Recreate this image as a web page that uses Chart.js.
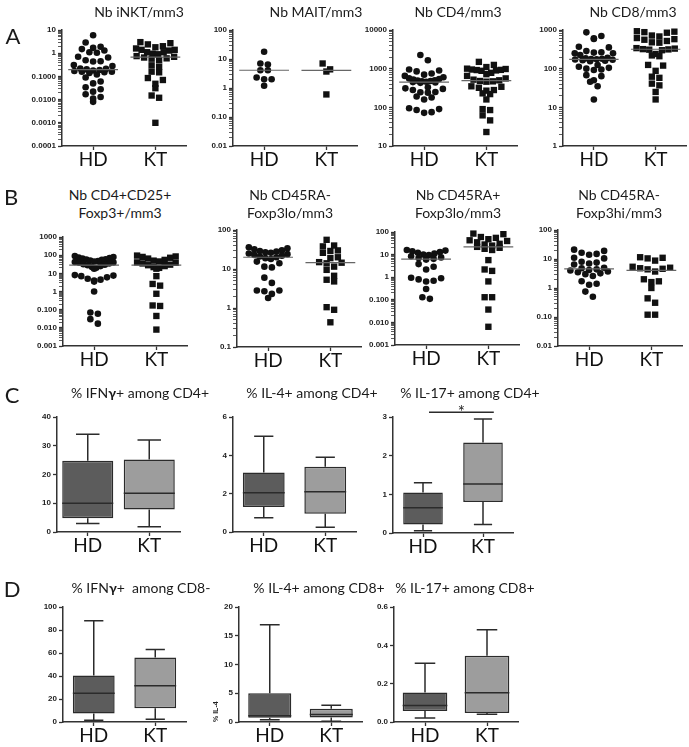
<!DOCTYPE html>
<html lang="en">
<head>
<meta charset="UTF-8">
<title>HD vs KT</title>
<script src="https://cdn.jsdelivr.net/npm/chart.js@4.4.1/dist/chart.umd.min.js"></script>
<style>
  body { margin: 0; background: #fff; }
  #fig { position: relative; width: 689px; height: 747px; overflow: hidden; font-family: Lato, 'Open Sans', sans-serif; color: #1a1a1a; }
  .txt { position: absolute; white-space: nowrap; transform: translate(-50%, -50%); font-size: 14px; line-height: 18px; text-align: center; }
  .letter { position: absolute; transform: translate(-50%, -50%); font-size: 22px; }
</style>
</head>
<body>
<div id="fig"></div>
<script>
const groups = ['HD', 'KT'];

// ---- row A : cell counts (log scale) ----
const inktHD = [5.9, 2.9, 1.9, 1.7, 1.5, 1.3, 1.1, 1.05, 0.7, 0.65, 0.5, 0.45, 0.44, 0.31, 0.28, 0.22, 0.21, 0.2, 0.19, 0.18, 0.17, 0.16, 0.16, 0.15, 0.14, 0.12, 0.09, 0.06, 0.05, 0.034, 0.028, 0.022, 0.017, 0.013, 0.011, 0.008];
const inktKT = [3.0, 2.7, 2.4, 2.0, 1.8, 1.6, 1.4, 1.4, 1.3, 1.1, 1.1, 0.95, 0.9, 0.75, 0.7, 0.65, 0.6, 0.58, 0.5, 0.3, 0.26, 0.16, 0.15, 0.085, 0.07, 0.048, 0.031, 0.015, 0.012, 0.001];
const inktTicks = ['0.0001', '0.0010', '0.0100', '0.1000', '1', '10'];

const maitHD = [17.8, 7.0, 6.5, 4.1, 4.1, 2.3, 2.0, 2.0, 1.2];
const maitKT = [7.0, 4.4, 3.7, 0.6];
const maitTicks = ['0.01', '0.10', '1', '10', '100'];

const cd4HD = [2250, 1650, 950, 900, 850, 750, 700, 650, 600, 560, 540, 520, 500, 490, 480, 470, 460, 450, 440, 430, 330, 310, 300, 280, 250, 245, 240, 190, 180, 160, 95, 90, 85, 75, 72];
const cd4KT = [1500, 1250, 1100, 1000, 980, 950, 930, 920, 900, 880, 780, 720, 650, 560, 520, 500, 480, 470, 460, 350, 340, 320, 280, 270, 230, 220, 160, 90, 85, 62, 46, 23];
const cd4Ticks = ['10', '100', '1000', '10000'];

const cd8HD = [870, 700, 610, 585, 370, 355, 285, 265, 260, 250, 250, 225, 190, 185, 180, 178, 175, 172, 170, 165, 160, 155, 124, 112, 105, 100, 95, 92, 68, 64, 50, 46, 35, 16];
const cd8KT = [930, 905, 880, 850, 720, 680, 620, 580, 560, 520, 480, 470, 340, 330, 320, 315, 310, 300, 240, 220, 210, 125, 120, 88, 62, 58, 41, 37, 25, 16];
const cd8Ticks = ['1', '10', '100', '1000'];

// ---- row B : Treg subsets (log scale) ----
const tregHD = [90, 80, 75, 70, 65, 60, 58, 55, 50, 48, 45, 42, 40, 38, 35, 32, 30, 28, 25, 22, 20, 18, 8, 7.5, 7, 6, 5, 4.5, 4, 3.5, 1, 0.07, 0.06, 0.03, 0.017];
const tregKT = [95, 85, 80, 72, 65, 55, 50, 45, 40, 38, 35, 30, 28, 25, 22, 20, 18, 7, 2.6, 2.1, 0.75, 0.17, 0.16, 0.045, 0.008];
const tregTicks = ['0.001', '0.010', '0.100', '1', '10', '100', '1000'];

const raNegLoHD = [36, 34, 32, 30, 29, 28, 27, 26, 25, 24, 23, 22, 21, 20, 19, 18, 15.5, 14, 11.5, 11, 6, 4.4, 2.8, 2.8, 2.7, 2.3, 1.8];
const raNegLoKT = [56, 40, 38, 30, 29, 26, 20, 19, 15, 14.5, 14, 11.5, 9.5, 6.7, 5.3, 4.8, 1.05, 0.9, 0.43];
const raNegLoTicks = ['0.1', '1', '10', '100'];

const raPosLoHD = [16, 15, 14, 13, 12, 11, 10, 9.5, 8.5, 7.5, 7, 6.5, 6, 3.8, 2.9, 2.2, 0.95, 0.9, 0.8, 0.7, 0.65, 0.3, 0.13, 0.11];
const raPosLoKT = [85, 80, 60, 55, 48, 43, 40, 35, 30, 28, 25, 22, 20, 18, 16, 5.7, 2.2, 1.9, 0.65, 0.13, 0.13, 0.037, 0.0064];
const raPosLoTicks = ['0.001', '0.010', '0.100', '1', '10', '100'];

const raNegHiHD = [21, 19, 16.5, 15, 14, 11, 10.5, 8, 7.5, 7, 6.5, 5, 4.8, 4.4, 4.2, 4, 3.7, 3.5, 3.2, 3.0, 2.6, 1.7, 1.4, 1.3, 0.75, 0.5];
const raNegHiKT = [11.5, 11, 10.5, 8.8, 5.4, 5, 4.8, 4.6, 4.4, 3.7, 2.0, 1.7, 1.6, 1.0, 0.44, 0.31, 0.12, 0.12];
const raNegHiTicks = ['0.01', '0.10', '1', '10', '100'];

// ---- rows C, D : cytokine box plots (min, q1, median, q3, max per group) ----
const ifnCd4Min = [3, 1.8], ifnCd4Q1 = [4.8, 7.8], ifnCd4Med = [10, 13.5], ifnCd4Q3 = [24.8, 25.2], ifnCd4Max = [34, 32];
const ifnCd4Ticks = ['0', '10', '20', '30', '40'];
const il4Cd4Min = [0.75, 0.25], il4Cd4Q1 = [1.3, 0.95], il4Cd4Med = [2.05, 2.1], il4Cd4Q3 = [3.1, 3.4], il4Cd4Max = [5.0, 3.9];
const il4Cd4Ticks = ['0', '2', '4', '6'];
const il17Cd4Min = [0.06, 0.22], il17Cd4Q1 = [0.22, 0.8], il17Cd4Med = [0.65, 1.27], il17Cd4Q3 = [1.05, 2.34], il17Cd4Max = [1.3, 2.95];
const il17Cd4Ticks = ['0', '1', '2', '3'];
const il17Cd4Sig = 3.12;

const ifnCd8Min = [1.5, 2.3], ifnCd8Q1 = [7.5, 12], ifnCd8Med = [25, 31.5], ifnCd8Q3 = [40.5, 56], ifnCd8Max = [88, 63];
const ifnCd8Ticks = ['0', '20', '40', '60', '80', '100'];
const il4Cd8Min = [0.4, 0.15], il4Cd8Q1 = [0.75, 0.8], il4Cd8Med = [1.1, 1.3], il4Cd8Q3 = [5.0, 2.3], il4Cd8Max = [16.9, 2.9];
const il4Cd8Ticks = ['0', '5', '10', '15', '20'];
const il17Cd8Min = [0.021, 0.04], il17Cd8Q1 = [0.057, 0.047], il17Cd8Med = [0.086, 0.152], il17Cd8Q3 = [0.154, 0.346], il17Cd8Max = [0.306, 0.481];
const il17Cd8Ticks = ['0.0', '0.2', '0.4', '0.6'];

const fig = document.getElementById('fig');
const XH = 30, PADR = 4;

function addText(html, x, y, cls) {
  const d = document.createElement('div');
  d.className = cls || 'txt';
  d.style.left = x + 'px';
  d.style.top = y + 'px';
  d.innerHTML = html;
  fig.appendChild(d);
}

function makeCanvas(box, yw, padT) {
  const [x0, x1, y0, y1] = box;
  const c = document.createElement('canvas');
  c.width = yw + (x1 - x0) + PADR;
  c.height = padT + (y1 - y0) + XH;
  c.style.cssText = 'position:absolute;left:' + (x0 - yw) + 'px;top:' + (y0 - padT) + 'px;';
  fig.appendChild(c);
  return c;
}

// decade labels, plus unlabelled minor ticks in between on log axes
function buildTicks(labels, log) {
  const out = [];
  labels.forEach((l, i) => {
    const v = Number(l);
    out.push({ value: v, lbl: l });
    if (log && i < labels.length - 1) {
      for (let k = 2; k <= 9; k++) out.push({ value: v * k, lbl: '' });
    }
  });
  return out;
}

function yAxis(labels, log, yw, title) {
  return {
    type: log ? 'logarithmic' : 'linear',
    min: Number(labels[0]),
    max: Number(labels[labels.length - 1]),
    afterBuildTicks: s => { s.ticks = buildTicks(labels, log); },
    afterFit: s => { s.width = yw; },
    ticks: {
      autoSkip: false, padding: 2, color: '#222',
      font: { family: 'Liberation Sans', size: 8, weight: 'bold' },
      callback: (v, i, t) => t[i].lbl
    },
    grid: {
      drawOnChartArea: false, color: '#333', tickLength: 4,
      tickWidth: c => (c.tick && c.tick.lbl ? 1.3 : 0.8)
    },
    border: { color: '#333', width: 1.5 },
    title: title ? {
      display: true, text: title, align: 'start', color: '#222',
      font: { family: 'Liberation Sans', size: 7, weight: 'bold' }, padding: { top: 1, bottom: 0 }
    } : { display: false }
  };
}

const xAxis = {
  type: 'category', labels: groups, offset: true,
  afterFit: s => { s.height = XH; },
  ticks: { color: '#111', padding: 0, font: { family: 'Lato', size: 19, lineHeight: 1 } },
  grid: { drawOnChartArea: false, offset: false, color: '#333', tickLength: 4, tickWidth: 1.3 },
  border: { color: '#333', width: 1.5 }
};

// spread points of one group sideways in rows, the way a scatter dot plot does
const swarm = {
  id: 'swarm',
  afterDatasetsUpdate(chart) {
    const xs = chart.scales.x;
    const maxSpread = 0.62 * (xs.getPixelForValue(1) - xs.getPixelForValue(0));
    chart.data.datasets.forEach((ds, di) => {
      const pts = chart.getDatasetMeta(di).data.slice().sort((a, b) => a.y - b.y);
      let row = [], top = null;
      const flush = () => {
        const n = row.length;
        const step = n > 1 ? Math.min(7.5, maxSpread / (n - 1)) : 0;
        const slots = [];
        for (let k = 0; k < n; k++) slots.push((k - (n - 1) / 2) * step);
        slots.sort((a, b) => Math.abs(b) - Math.abs(a));
        row.forEach((p, i) => { p.x += slots[i]; });
        row = [];
      };
      pts.forEach(p => {
        if (top === null || p.y - top > 6) { flush(); top = p.y; }
        row.push(p);
      });
      flush();
    });
  }
};

const medians = {
  id: 'medians',
  afterDatasetsDraw(chart) {
    const xs = chart.scales.x, ys = chart.scales.y, ctx = chart.ctx;
    const half = 0.4 * (xs.getPixelForValue(1) - xs.getPixelForValue(0));
    chart.data.datasets.forEach((ds, i) => {
      const v = ds.data.map(d => d.y).sort((a, b) => a - b);
      const n = v.length;
      const m = n % 2 ? v[(n - 1) / 2] : (v[n / 2 - 1] + v[n / 2]) / 2;
      const py = ys.getPixelForValue(m), px = xs.getPixelForValue(i);
      ctx.save();
      ctx.strokeStyle = '#666';
      ctx.lineWidth = 1.2;
      ctx.beginPath();
      ctx.moveTo(px - half, py);
      ctx.lineTo(px + half, py);
      ctx.stroke();
      ctx.restore();
    });
  }
};

const whiskers = {
  id: 'whiskers',
  afterDatasetsDraw(chart, args, o) {
    const ys = chart.scales.y, ctx = chart.ctx;
    ctx.save();
    ctx.strokeStyle = '#2b2b2b';
    ctx.lineWidth = 1.5;
    chart.getDatasetMeta(0).data.forEach((bar, i) => {
      const x = bar.x, w = bar.width, cap = w * 0.23;
      const pMin = ys.getPixelForValue(o.min[i]), pMax = ys.getPixelForValue(o.max[i]);
      const pQ1 = ys.getPixelForValue(o.q1[i]), pQ3 = ys.getPixelForValue(o.q3[i]);
      const pMed = ys.getPixelForValue(o.med[i]);
      ctx.beginPath();
      ctx.moveTo(x, pQ3); ctx.lineTo(x, pMax);
      ctx.moveTo(x - cap, pMax); ctx.lineTo(x + cap, pMax);
      ctx.moveTo(x, pQ1); ctx.lineTo(x, pMin);
      ctx.moveTo(x - cap, pMin); ctx.lineTo(x + cap, pMin);
      ctx.moveTo(x - w / 2, pMed); ctx.lineTo(x + w / 2, pMed);
      ctx.stroke();
    });
    if (o.sig) {
      const xs = chart.scales.x;
      const py = ys.getPixelForValue(o.sig);
      const a = xs.getPixelForValue(0.1), b = xs.getPixelForValue(1.18);
      ctx.beginPath();
      ctx.moveTo(a, py); ctx.lineTo(b, py);
      ctx.stroke();
      ctx.fillStyle = '#222';
      ctx.font = '17px Lato';
      ctx.textAlign = 'center';
      ctx.textBaseline = 'alphabetic';
      ctx.fillText('*', (a + b) / 2, py + 6);
    }
    ctx.restore();
  }
};

function scatterPanel(box, hd, kt, ticks) {
  const yw = 46, padT = 10;
  new Chart(makeCanvas(box, yw, padT), {
    type: 'scatter',
    data: {
      labels: groups,
      datasets: [
        { data: hd.map(v => ({ x: 'HD', y: v })), pointStyle: 'circle', pointRadius: 3.3, backgroundColor: '#111', borderWidth: 0, clip: false },
        { data: kt.map(v => ({ x: 'KT', y: v })), pointStyle: 'rect', pointRadius: 4.5, backgroundColor: '#111', borderWidth: 0, clip: false }
      ]
    },
    options: {
      responsive: false, animation: false, events: [],
      layout: { padding: { top: padT, right: PADR, left: 0, bottom: 0 } },
      plugins: { legend: { display: false }, tooltip: { enabled: false } },
      scales: { x: xAxis, y: yAxis(ticks, true, yw) }
    },
    plugins: [swarm, medians]
  });
}

function boxPanel(box, s, ticks, barPct, extra) {
  extra = extra || {};
  const yw = extra.yw || 46, padT = extra.padT || 10;
  new Chart(makeCanvas(box, yw, padT), {
    type: 'bar',
    data: {
      labels: groups,
      datasets: [{
        data: s.q1.map((v, i) => [v, s.q3[i]]),
        backgroundColor: ['#5c5c5c', '#9d9d9d'],
        borderColor: '#2b2b2b', borderWidth: 1.5, borderSkipped: false,
        barPercentage: barPct, categoryPercentage: 1
      }]
    },
    options: {
      responsive: false, animation: false, events: [],
      layout: { padding: { top: padT, right: PADR, left: 0, bottom: 0 } },
      plugins: { legend: { display: false }, tooltip: { enabled: false }, whiskers: Object.assign({ sig: extra.sig }, s) },
      scales: { x: xAxis, y: yAxis(ticks, false, yw, extra.yTitle) }
    },
    plugins: [whiskers]
  });
}

// row A
scatterPanel([62, 187, 30, 146], inktHD, inktKT, inktTicks);
scatterPanel([233, 358, 30, 146], maitHD, maitKT, maitTicks);
scatterPanel([393, 518, 30, 146], cd4HD, cd4KT, cd4Ticks);
scatterPanel([563, 687, 30, 146], cd8HD, cd8KT, cd8Ticks);
// row B
scatterPanel([63, 188, 237, 346], tregHD, tregKT, tregTicks);
scatterPanel([237, 362, 230, 347], raNegLoHD, raNegLoKT, raNegLoTicks);
scatterPanel([395, 520, 232, 345], raPosLoHD, raPosLoKT, raPosLoTicks);
scatterPanel([558, 683, 230, 346], raNegHiHD, raNegHiKT, raNegHiTicks);
// row C
boxPanel([57, 180, 417, 532], { min: ifnCd4Min, q1: ifnCd4Q1, med: ifnCd4Med, q3: ifnCd4Q3, max: ifnCd4Max }, ifnCd4Ticks, 0.83);
boxPanel([233, 356, 417, 532], { min: il4Cd4Min, q1: il4Cd4Q1, med: il4Cd4Med, q3: il4Cd4Q3, max: il4Cd4Max }, il4Cd4Ticks, 0.68);
boxPanel([393, 513, 417, 533], { min: il17Cd4Min, q1: il17Cd4Q1, med: il17Cd4Med, q3: il17Cd4Q3, max: il17Cd4Max }, il17Cd4Ticks, 0.66, { padT: 18, sig: il17Cd4Sig });
// row D
boxPanel([63, 186, 607, 722], { min: ifnCd8Min, q1: ifnCd8Q1, med: ifnCd8Med, q3: ifnCd8Q3, max: ifnCd8Max }, ifnCd8Ticks, 0.68);
boxPanel([239, 362, 607, 722], { min: il4Cd8Min, q1: il4Cd8Q1, med: il4Cd8Med, q3: il4Cd8Q3, max: il4Cd8Max }, il4Cd8Ticks, 0.7, { yw: 28, yTitle: '% IL-4' });
boxPanel([394, 518, 607, 722], { min: il17Cd8Min, q1: il17Cd8Q1, med: il17Cd8Med, q3: il17Cd8Q3, max: il17Cd8Max }, il17Cd8Ticks, 0.72);

// panel letters and titles
addText('A', 13, 35, 'letter');
addText('B', 11, 196, 'letter');
addText('C', 12, 394, 'letter');
addText('D', 12, 588, 'letter');

addText('Nb iNKT/mm3', 139, 12);
addText('Nb MAIT/mm3', 316, 12);
addText('Nb CD4/mm3', 458, 12);
addText('Nb CD8/mm3', 633, 12);
addText('Nb CD4+CD25+<br>Foxp3+/mm3', 120, 204);
addText('Nb CD45RA-<br>Foxp3lo/mm3', 290, 204);
addText('Nb CD45RA+<br>Foxp3lo/mm3', 458, 204);
addText('Nb CD45RA-<br>Foxp3hi/mm3', 619, 204);
addText('% IFN<b>\u03b3</b>+ among CD4+', 140, 393);
addText('% IL-4+ among CD4+', 312, 393);
addText('% IL-17+ among CD4+', 470, 393);
addText('% IFN<b>\u03b3</b>+&nbsp; among CD8-', 141, 588);
addText('% IL-4+ among CD8+', 319, 588);
addText('% IL-17+ among CD8+', 465, 588);
</script>
</body>
</html>
